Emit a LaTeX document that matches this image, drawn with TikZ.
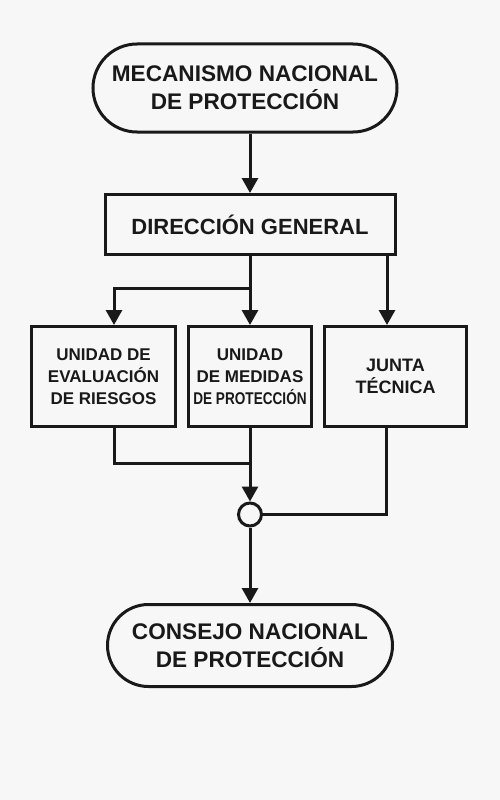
\documentclass[tikz,border=0pt]{standalone}
\usepackage{fontspec}
\setmainfont{Liberation Sans}
\usetikzlibrary{arrows.meta,shapes.misc}
\definecolor{bg}{RGB}{247,247,247}
\definecolor{ink}{RGB}{25,25,25}
\begin{document}
\begin{tikzpicture}[x=1pt,y=-1pt,
  line width=3pt, draw=ink, text=ink,
  arr/.style={-{Triangle[length=15pt,width=16pt]}},
  term/.style={draw=ink, rounded rectangle, inner sep=0pt, align=center,
    font=\fontsize{22.6}{28}\selectfont\bfseries},
  box/.style={draw=ink, rectangle, inner sep=0pt, align=center},
  unit/.style={box, minimum height=100pt, font=\fontsize{17}{22}\selectfont\bfseries},
]
\fill[bg] (0,0) rectangle (500,800);
\useasboundingbox (0,0) rectangle (500,800);

\node[term, minimum width=304pt, minimum height=88pt] (top) at (245,88) {MECANISMO NACIONAL\\DE PROTECCIÓN};
\node[box, minimum width=290pt, minimum height=60pt, font=\fontsize{22}{26}\selectfont\bfseries] (dg) at (250,224.5) {DIRECCIÓN GENERAL};
\node[unit, minimum width=144pt] (u1) at (103.5,376.5) {UNIDAD DE\\EVALUACIÓN\\DE RIESGOS};
\node[unit, minimum width=123pt] (u2) at (250,376.5) {UNIDAD\\DE MEDIDAS\\\scalebox{0.8}[1]{DE PROTECCIÓN}};
\node[unit, minimum width=142pt, font=\fontsize{18}{22}\selectfont\bfseries] (u3) at (395.5,376.5) {JUNTA\\TÉCNICA};
\node[draw=ink, circle, minimum size=23pt, inner sep=0pt] (c) at (250,514.5) {};
\node[term, minimum width=285pt, minimum height=82pt] (bot) at (250,645.5) {CONSEJO NACIONAL\\DE PROTECCIÓN};

\coordinate (j1) at (250,288);
\coordinate (j2) at (250,463);
\coordinate (u1in) at ([xshift=10.5pt]u1.north);
\coordinate (u1out) at ([xshift=10.5pt]u1.south);
\coordinate (u3in) at ([xshift=-8.5pt]u3.north);
\coordinate (u3out) at ([xshift=-9.5pt]u3.south);

\draw[arr] (top.south -| dg.north) -- (dg.north);
\draw[arr] (dg.south) -- (u2.north);
\draw[arr] (j1) -| (u1in);
\draw[arr] (u3in |- dg.south) -- (u3in);
\draw (u1out) |- (j2);
\draw[arr] (u2.south) -- (c.north);
\draw (u3out) |- (c.east);
\draw[arr] (c.south) -- (bot.north);
\end{tikzpicture}
\end{document}
